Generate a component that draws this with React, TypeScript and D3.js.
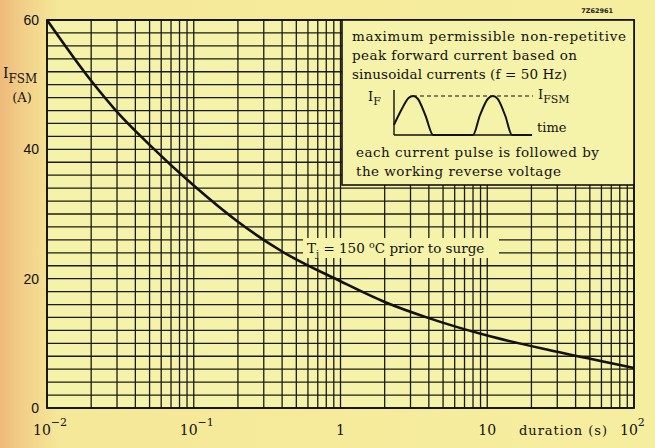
import * as d3 from 'd3';

// surge current curve (duration in s, I_FSM in A)
const durations = [0.01, 0.02, 0.03, 0.05, 0.1, 0.2, 0.4, 1, 2, 4, 10, 30, 100];
const currents = [60, 50.6, 45.8, 40.7, 34.4, 28.8, 24.2, 19.6, 16.4, 13.9, 11.2, 8.7, 6.2];

const yTicks = [0, 20, 40, 60];
const xTicks = [
  { v: 0.01, base: '10', exp: '\u22122' },
  { v: 0.1, base: '10', exp: '\u22121' },
  { v: 1, base: '1', exp: '' },
  { v: 10, base: '10', exp: '' },
  { v: 100, base: '10', exp: '2' },
];
const decades = [0.01, 0.1, 1, 10];
const boxLines = [
  'maximum permissible non-repetitive',
  'peak forward current based on',
  'sinusoidal currents (f = 50 Hz)',
];
const boxLinesBottom = ['each current pulse is followed by', 'the working reverse voltage'];

// little inset waveform, in ms vs relative amplitude
const waveform: [number, number][] = [
  [0, 0.26], [2, 0.66], [3.8, 0.95], [4.96, 1], [6.2, 0.93], [8.2, 0.5], [10.2, 0],
  [20.6, 0], [22.4, 0.5], [24.5, 0.93], [25.8, 1], [27, 0.93], [29, 0.5], [30.8, 0], [36, 0],
];

const serif = '"DejaVu Serif", serif';

const App = () => {
  const width = 655;
  const height = 448;

  const x = d3.scaleLog().domain([0.01, 100]).range([47, 634]);
  const y = d3.scaleLinear().domain([0, 60]).range([408, 20]);

  const vGrid: number[] = [];
  decades.forEach(d => {
    for (let k = 1; k <= 9; k++) vGrid.push(k * d);
  });
  vGrid.push(100);
  const hGrid = d3.range(0, 61, 2);

  const pts = durations.map((t, i) => [t, currents[i]] as [number, number]);
  const curve = d3.line<[number, number]>()
    .x(d => x(d[0]))
    .y(d => y(d[1]))
    .curve(d3.curveMonotoneX)(pts) ?? '';

  const xi = d3.scaleLinear().domain([0, 36]).range([394, 532]);
  const yi = d3.scaleLinear().domain([0, 1]).range([135, 96]);
  const wave = d3.line<[number, number]>().x(d => xi(d[0])).y(d => yi(d[1])).curve(d3.curveMonotoneX);

  return (
    <svg width={width} height={height} style={{ position: 'absolute', left: 0, top: 0 }}>
      <defs>
        <linearGradient id="paper" x1="0" x2="1" y1="0" y2="0">
          <stop offset="0%" stopColor="#eeb97a" />
          <stop offset="4%" stopColor="#f2d28a" />
          <stop offset="9%" stopColor="#f5e898" />
          <stop offset="100%" stopColor="#f6ee9f" />
        </linearGradient>
      </defs>
      <rect x={0} y={0} width={width} height={height} fill="url(#paper)" />
      <rect x={x(0.01)} y={y(60)} width={x(100) - x(0.01)} height={y(0) - y(60)} fill="#f5f2a9" />

      <g stroke="#1b1b16" strokeWidth={1.3}>
        {hGrid.map(v => (
          <line key={'h' + v} x1={x(0.01)} x2={x(100)} y1={y(v)} y2={y(v)} />
        ))}
        {vGrid.map(v => (
          <line key={'v' + v} x1={x(v)} x2={x(v)} y1={y(0)} y2={y(60)} />
        ))}
      </g>
      <rect x={x(0.01)} y={y(60)} width={x(100) - x(0.01)} height={y(0) - y(60)} fill="none" stroke="#111" strokeWidth={1.8} />

      <path d={curve} fill="none" stroke="#111" strokeWidth={2.6} />

      {/* Tj label */}
      <rect x={303} y={238} width={196} height={20} fill="#f5f2a9" />
      <text x={307} y={253} fontFamily={serif} fontSize={13.5} fill="#111">
        T<tspan fontSize={10} dy={4}>j</tspan>
        <tspan dy={-4}> = 150 </tspan>
        <tspan fontSize={9.5} dy={-5}>o</tspan>
        <tspan dy={5}>C prior to surge</tspan>
      </text>

      {/* explanation box */}
      <rect x={342} y={20} width={292} height={165} fill="#f5f2a9" stroke="#111" strokeWidth={1.6} />
      {boxLines.map((s, i) => (
        <text key={s} x={352} y={41 + i * 19} fontFamily={serif} fontSize={13.5} fill="#111"
          textLength={[274, 225, 215][i]} lengthAdjust="spacing">{s}</text>
      ))}
      {boxLinesBottom.map((s, i) => (
        <text key={s} x={356} y={157 + i * 19} fontFamily={serif} fontSize={13.5} fill="#111"
          textLength={[243, 205][i]} lengthAdjust="spacing">{s}</text>
      ))}
      <line x1={xi(0)} x2={xi(0)} y1={90} y2={yi(0)} stroke="#111" strokeWidth={1.4} />
      <line x1={xi(0)} x2={xi(36)} y1={yi(0)} y2={yi(0)} stroke="#111" strokeWidth={1.4} />
      <path d={wave(waveform) ?? ''} fill="none" stroke="#111" strokeWidth={2} />
      <line x1={xi(4.96)} x2={533} y1={yi(1)} y2={yi(1)} stroke="#111" strokeWidth={1.2} strokeDasharray="4,3" />
      <text x={368} y={101} fontFamily={serif} fontSize={13} fill="#111">
        I<tspan fontSize={11} dy={4}>F</tspan>
      </text>
      <text x={538} y={99} fontFamily={serif} fontSize={13} fill="#111">
        I<tspan fontSize={11} dy={4}>FSM</tspan>
      </text>
      <text x={537} y={132} fontFamily={serif} fontSize={13} fill="#111">time</text>

      <text x={613} y={13} fontFamily='"DejaVu Sans", sans-serif' fontSize={6.5} fontWeight="bold" fill="#222" textAnchor="end">7Z62961</text>

      {/* y axis */}
      {yTicks.map(v => (
        <text key={'yt' + v} x={39} y={y(v) + 5} textAnchor="end" fontFamily='"Liberation Sans", sans-serif' fontSize={14} fill="#111">{v}</text>
      ))}
      <text x={3} y={78} fontFamily={serif} fontSize={14} fill="#111">
        I<tspan fontSize={12} dy={5}>FSM</tspan>
      </text>
      <text x={22} y={102} textAnchor="middle" fontFamily={serif} fontSize={13} fill="#111">(A)</text>

      {/* x axis */}
      {xTicks.map(t => (
        <text key={'xt' + t.v} x={x(t.v) + (t.exp ? -14 : 0)} y={435}
          textAnchor={t.exp ? 'start' : 'middle'} fontFamily={serif} fontSize={14} fill="#111">
          {t.base}
          {t.exp && <tspan fontSize={11} dy={-9}>{t.exp}</tspan>}
        </text>
      ))}
      <text x={519} y={435} fontFamily={serif} fontSize={13} fill="#111" textLength={88} lengthAdjust="spacing">duration (s)</text>
    </svg>
  );
};

export default App;
